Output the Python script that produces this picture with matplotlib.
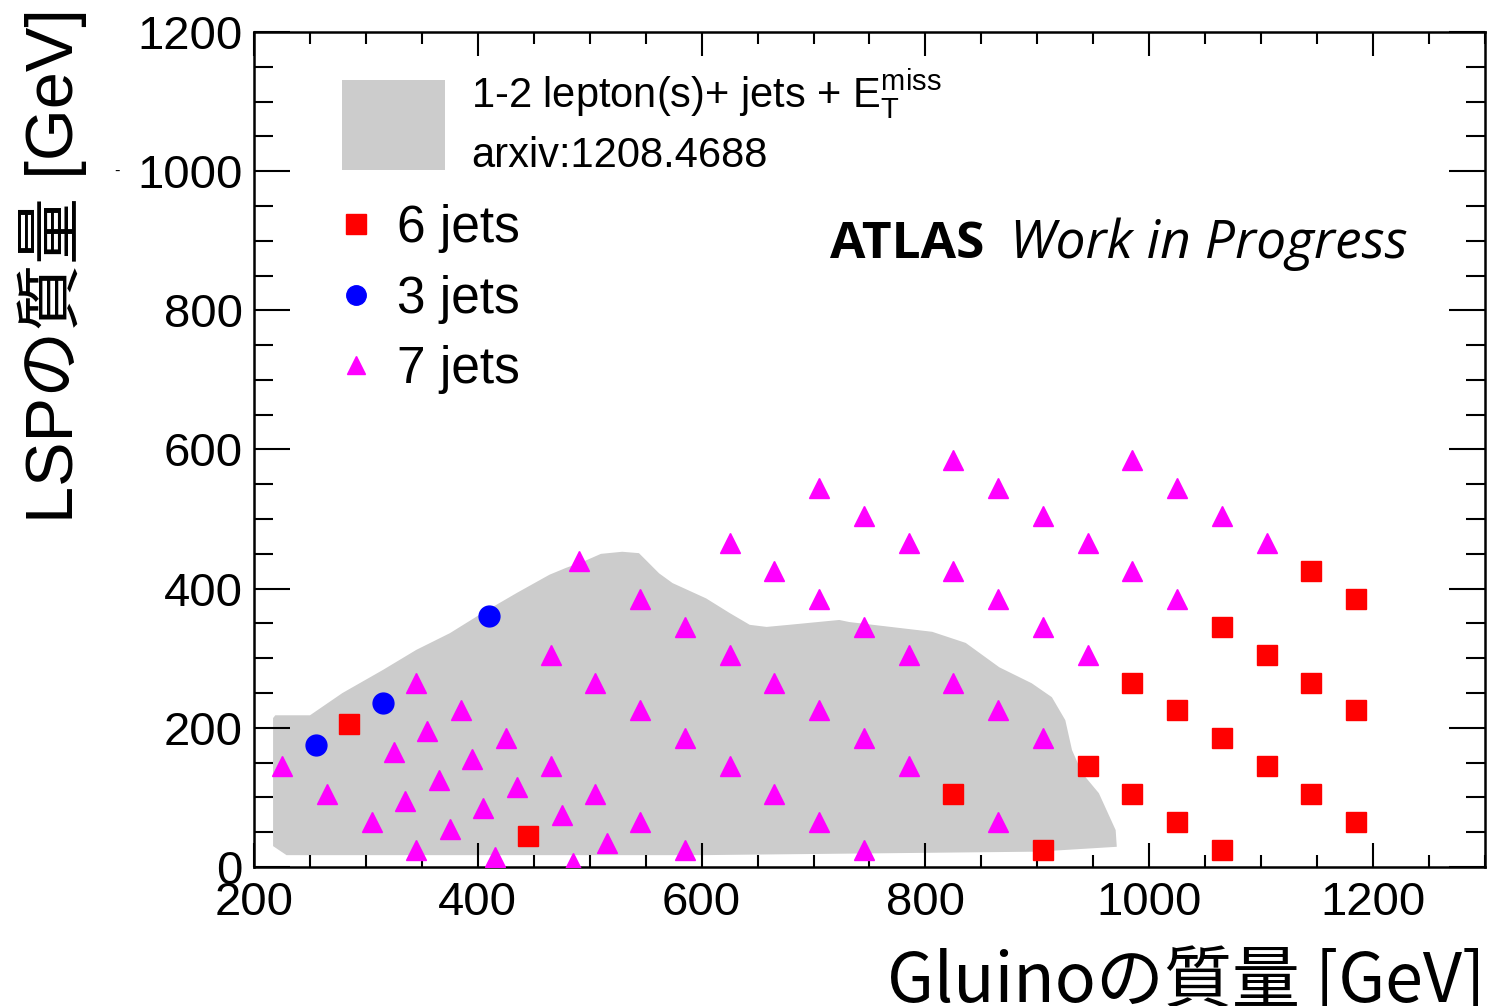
import matplotlib
matplotlib.use("Agg")
import matplotlib.pyplot as plt
from matplotlib.patches import Patch
from matplotlib.lines import Line2D
from matplotlib.ticker import MultipleLocator

plt.rcParams["font.family"] = ["Liberation Sans", "Noto Sans CJK JP"]
plt.rcParams["mathtext.fontset"] = "custom"
plt.rcParams["mathtext.rm"] = "Liberation Sans"

# 6 jets (red squares)
six_x = [285, 445, 825, 905, 945, 985, 985, 1025, 1025, 1065, 1065, 1065,
         1105, 1105, 1145, 1145, 1145, 1185, 1185, 1185]
six_y = [205, 45, 105, 25, 145, 265, 105, 225, 65, 345, 185, 25,
         305, 145, 425, 265, 105, 385, 225, 65]

# 3 jets (blue circles)
three_x = [255, 315, 410]
three_y = [175, 235, 360]

# 7 jets (magenta triangles)
seven_x = [490, 545, 585, 465, 345, 505, 385, 545, 355, 425, 585, 225, 325,
           395, 465, 265, 365, 435, 505, 335, 405, 475, 305, 375, 545, 515,
           345, 585, 415, 485,
           825, 985, 705, 865, 1025, 745, 905, 1065, 625, 785, 945, 1105,
           665, 825, 985, 705, 865, 1025, 745, 905, 625, 785, 945, 665, 825,
           705, 865, 745, 905, 625, 785, 665, 705, 865, 745]
seven_y = [440, 385, 345, 305, 265, 265, 225, 225, 195, 185, 185, 145, 165,
           155, 145, 105, 125, 115, 105, 95, 85, 75, 65, 55, 65, 35,
           25, 25, 15, 5,
           585, 585, 545, 545, 545, 505, 505, 505, 465, 465, 465, 465,
           425, 425, 425, 385, 385, 385, 345, 345, 305, 305, 305, 265, 265,
           225, 225, 185, 185, 145, 145, 105, 65, 65, 25]

# excluded region, 1-2 lepton(s) + jets + ETmiss (arxiv:1208.4688)
region_x = [217, 229, 600, 900, 971, 970, 955, 940, 931, 925, 913, 895, 866,
            836, 806, 732, 723, 678, 658, 643, 625, 604, 574, 562, 544, 529,
            510, 493, 479, 464, 435, 404, 375, 345, 315, 279, 250, 219, 217]
region_y = [30, 17, 17, 22, 29, 53, 106, 135, 168, 211, 244, 264, 287,
            322, 338, 352, 355, 348, 345, 348, 365, 386, 408, 422, 451, 453,
            450, 438, 430, 420, 394, 365, 336, 312, 283, 250, 218, 218, 214]

region_color = "#cccccc"

fig = plt.figure(figsize=(14.9, 10.06), dpi=100)
ax = fig.add_axes([0.1705, 0.1382, 0.8261, 0.8300])

ax.fill(region_x, region_y, color=region_color, lw=0, zorder=1)
ax.plot(six_x, six_y, "s", color="#ff0000", ms=15, zorder=3)
ax.plot(three_x, three_y, "o", color="#0000ff", ms=15, zorder=3)
ax.plot(seven_x, seven_y, "^", color="#ff00ff", ms=15, zorder=3)

ax.set_xlim(200, 1300)
ax.set_ylim(0, 1200)
ax.xaxis.set_major_locator(MultipleLocator(200))
ax.xaxis.set_minor_locator(MultipleLocator(50))
ax.yaxis.set_major_locator(MultipleLocator(200))
ax.yaxis.set_minor_locator(MultipleLocator(50))
ax.tick_params(which="both", direction="in", top=True, right=True, width=1.5)
ax.tick_params(axis="x", which="major", length=17, labelsize=34, pad=10)
ax.tick_params(axis="x", which="minor", length=8.5)
ax.tick_params(axis="y", which="major", length=26, labelsize=34, pad=8)
ax.tick_params(axis="y", which="minor", length=13.5)
for s in ax.spines.values():
    s.set_linewidth(1.8)

# stray dash left of the 1000 label
ax.text(-0.111, 1000, "-", transform=ax.get_yaxis_transform(), fontsize=12,
        ha="center", va="center")

ax.set_xlabel("Gluinoの質量 [GeV]", fontsize=49, loc="right",
              family=["Noto Sans CJK JP"])
ax.xaxis.set_label_coords(1.0, -0.097)
ax.set_ylabel("LSPの質量 [GeV]", fontsize=48, loc="top")
ax.yaxis.set_label_coords(-0.136, 1.028)

# legends
leg1 = ax.legend([Patch(facecolor=region_color, edgecolor="none")],
                 ["1-2 lepton(s)+ jets + $\\mathrm{E}_{\\mathrm{T}}^{\\mathrm{miss}}$\narxiv:1208.4688"],
                 loc="upper left", bbox_to_anchor=(0.0715, 0.958), frameon=False,
                 fontsize=30, handlelength=2.48, handleheight=2.95,
                 handletextpad=0.62, borderpad=0, borderaxespad=0)
for t in leg1.get_texts():
    t.set_linespacing(1.5)
ax.add_artist(leg1)

handles = [Line2D([], [], ls="none", marker="s", color="#ff0000", ms=14),
           Line2D([], [], ls="none", marker="o", color="#0000ff", ms=14),
           Line2D([], [], ls="none", marker="^", color="#ff00ff", ms=13)]
ax.legend(handles, ["6 jets", "3 jets", "7 jets"], loc="upper left",
          bbox_to_anchor=(0.0658, 0.794), frameon=False, fontsize=37,
          handlelength=0.8, handletextpad=0.4, labelspacing=0.42,
          borderpad=0, borderaxespad=0)

ax.text(0.468, 0.729, "ATLAS", transform=ax.transAxes, fontsize=37,
        fontweight="bold", family="Open Sans")
ax.text(0.614, 0.729, "Work in Progress", transform=ax.transAxes,
        fontsize=38.4, style="italic", family="Open Sans")

fig.savefig("out.png", dpi=100)
